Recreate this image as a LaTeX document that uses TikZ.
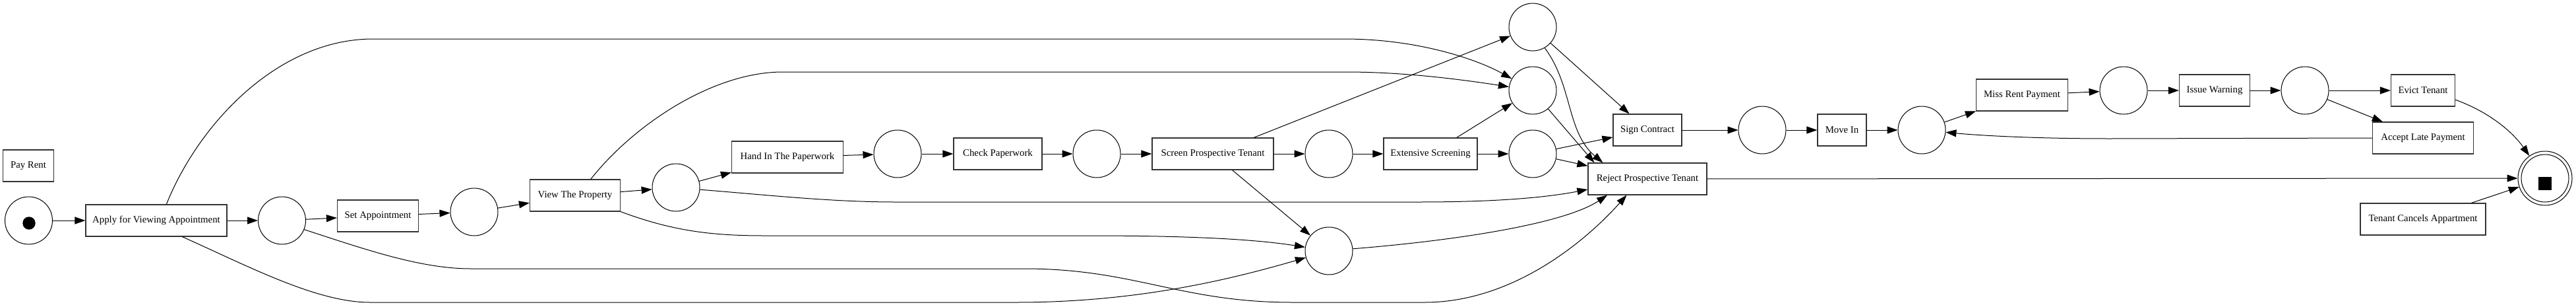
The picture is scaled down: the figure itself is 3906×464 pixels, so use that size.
\documentclass[tikz,border=0pt]{standalone}
\usepackage{fontspec}
\setmainfont{Liberation Serif}
\usetikzlibrary{arrows.meta}
\begin{document}
\begin{tikzpicture}[x=1pt,y=-1pt,
  every node/.style={font=\fontsize{14.8}{17}\selectfont},
  trans/.style={draw=black!80, line width=1.2pt, rectangle, minimum height=48pt, inner sep=0pt},
  place/.style={draw, line width=1.0pt, circle, minimum size=72pt, inner sep=0pt},
  arc/.style={line width=1.0pt, -{Triangle[length=16pt,width=11pt]}},
]
\useasboundingbox (0,0) rectangle (3906,464);
% transitions and places
\node[trans, minimum width=77pt] (payrent) at (43,251) {Pay Rent};
\node[place] (start) at (43.5,334) {};
\node[trans, minimum width=214pt] (apply) at (237,334) {Apply for Viewing Appointment};
\node[place] (p1) at (427.5,334) {};
\node[trans, minimum width=123pt] (setappt) at (573,327) {Set Appointment};
\node[place] (p2) at (719,321) {};
\node[trans, minimum width=137pt] (view) at (872,296) {View The Property};
\node[place] (p3) at (1025,284) {};
\node[trans, minimum width=169pt] (handin) at (1194,238) {Hand In The Paperwork};
\node[place] (p4) at (1361,233) {};
\node[trans, minimum width=134pt] (check) at (1513,233) {Check Paperwork};
\node[place] (p5) at (1663,233) {};
\node[trans, minimum width=184pt] (screen) at (1839,233) {Screen Prospective Tenant};
\node[place] (p6) at (2015,233) {};
\node[trans, minimum width=142pt] (extensive) at (2169,233) {Extensive Screening};
\node[place] (p7) at (2015,380) {};
\node[place] (pA) at (2324,41) {};
\node[place] (pB) at (2324,137) {};
\node[place] (pC) at (2324,233) {};
\node[trans, minimum width=104pt] (sign) at (2498,197) {Sign Contract};
\node[trans, minimum width=180pt] (reject) at (2498,271) {Reject Prospective Tenant};
\node[place] (p8) at (2672,197) {};
\node[trans, minimum width=74pt] (movein) at (2793,197) {Move In};
\node[place] (p9) at (2914,197) {};
\node[trans, minimum width=139pt] (missrent) at (3066,144) {Miss Rent Payment};
\node[place] (p10) at (3220,137) {};
\node[trans, minimum width=107pt] (issue) at (3358,137) {Issue Warning};
\node[place] (p11) at (3495,137) {};
\node[trans, minimum width=97pt] (evict) at (3674,137) {Evict Tenant};
\node[trans, minimum width=153pt] (acceptlate) at (3674,209) {Accept Late Payment};
\node[trans, minimum width=190pt] (cancels) at (3674,332) {Tenant Cancels Appartment};
\node[place, minimum size=82pt] (end) at (3859,270) {};
\draw[line width=1.0pt] (end.center) circle[radius=36pt];
\fill (3849,267.5) rectangle (3869,287.5);
\fill (44,338) circle[radius=9.7pt];
% straight arcs
\draw[arc] (start) -- (apply);
\draw[arc] (apply) -- (p1);
\draw[arc] (p1) -- (setappt);
\draw[arc] (setappt) -- (p2);
\draw[arc] (p2) -- (view);
\draw[arc] (view) -- (p3);
\draw[arc] (p3) -- (handin);
\draw[arc] (handin) -- (p4);
\draw[arc] (p4) -- (check);
\draw[arc] (check) -- (p5);
\draw[arc] (p5) -- (screen);
\draw[arc] (screen) -- (p6);
\draw[arc] (p6) -- (extensive);
\draw[arc] (extensive) -- (pC);
\draw[arc] (extensive) -- (pB);
\draw[arc] (screen) -- (pA);
\draw[arc] (screen) -- (p7);
\draw[arc] (pA) -- (sign);
\draw[arc] (pC) -- (sign);
\draw[arc] (pC) -- (reject);
\draw[arc] (pB.-50) -- (reject.163);
\draw[arc] (sign) -- (p8);
\draw[arc] (p8) -- (movein);
\draw[arc] (movein) -- (p9);
\draw[arc] (p9) -- (missrent);
\draw[arc] (missrent) -- (p10);
\draw[arc] (p10) -- (issue);
\draw[arc] (issue) -- (p11);
\draw[arc] (p11) -- (evict);
\draw[arc] (p11) -- (acceptlate);
\draw[arc] (reject) -- (end);
\draw[arc] (cancels) -- (end);
% curved arcs
\draw[arc] (apply.58) .. controls (300,190) and (420,59) .. (566,59) -- (2038,59) .. controls (2150,59) and (2240,90) .. (pB);
\draw[arc] (apply.-32) .. controls (376,403) and (480,458) .. (561,458) -- (1540,458) .. controls (1720,458) and (1860,425) .. (p7);
\draw[arc] (p1.-22) .. controls (560,380) and (640,407) .. (714,407) -- (1553,407) .. controls (1720,407) and (1790,458) .. (1960,458) -- (2160,458) .. controls (2290,458) and (2400,370) .. (reject.-142);
\draw[arc] (view.46) .. controls (960,190) and (1080,109) .. (1187,109) -- (2040,109) .. controls (2120,109) and (2200,118) .. (pB);
\draw[arc] (view.south east) .. controls (1020,350) and (1080,357) .. (1159,357) -- (1650,357) .. controls (1800,357) and (1900,362) .. (p7);
\draw[arc] (p3.-5) .. controls (1160,295) and (1260,306) .. (1358,306) -- (2150,306) .. controls (2280,306) and (2350,298) .. (reject.190);
\draw[arc] (p7.5) .. controls (2200,365) and (2370,340) .. (reject.-158);
\draw[arc] (pA.-60) .. controls (2385,130) and (2375,200) .. (reject.160);
\draw[arc] (acceptlate.west) -- (3200,210) .. controls (3080,210) and (3000,205) .. (p9);
\draw[arc] (evict.-16) .. controls (3775,170) and (3810,200) .. (end);
\end{tikzpicture}
\end{document}
